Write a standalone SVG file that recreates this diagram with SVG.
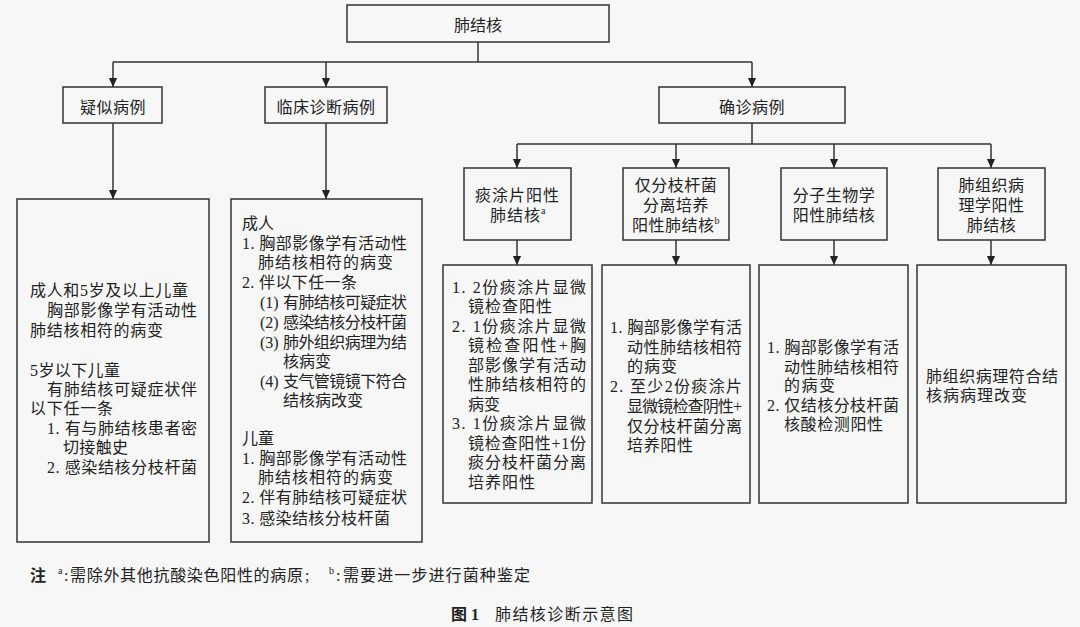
<svg xmlns="http://www.w3.org/2000/svg" width="1080" height="627" viewBox="0 0 1080 627">
<style>
.bg{fill:#f7f7f7}
.box{fill:none;stroke:#333;stroke-width:1.5}
.ln{fill:none;stroke:#333;stroke-width:1.5}
.t{font-family:"Liberation Serif","Noto Sans CJK SC",serif;font-size:16px;fill:#222}
.c{text-anchor:middle}
.sup{font-size:10px}
.fn{font-family:"Liberation Serif","Noto Sans CJK SC",serif;font-size:16px;fill:#222}
.b{font-weight:bold}
</style>
<defs>
<marker id="ad" markerUnits="userSpaceOnUse" markerWidth="10" markerHeight="12" refX="11" refY="5" orient="auto" viewBox="0 0 12 10">
<path d="M0,0 L11,5 L0,10 Z" fill="#222"/>
</marker>
</defs>
<rect class="bg" x="0" y="0" width="1080" height="627"/>

<g id="connectors">
<line class="ln" x1="478" y1="42" x2="478" y2="62"/>
<line class="ln" x1="113" y1="62" x2="752" y2="62"/>
<line class="ln" x1="113" y1="62" x2="113" y2="87" marker-end="url(#ad)"/>
<line class="ln" x1="326" y1="62" x2="326" y2="87" marker-end="url(#ad)"/>
<line class="ln" x1="752" y1="62" x2="752" y2="87" marker-end="url(#ad)"/>
<line class="ln" x1="113" y1="123" x2="113" y2="199" marker-end="url(#ad)"/>
<line class="ln" x1="326" y1="123" x2="326" y2="199" marker-end="url(#ad)"/>
<line class="ln" x1="752" y1="123" x2="752" y2="144"/>
<line class="ln" x1="517" y1="144" x2="991" y2="144"/>
<line class="ln" x1="517" y1="144" x2="517" y2="168" marker-end="url(#ad)"/>
<line class="ln" x1="676" y1="144" x2="676" y2="168" marker-end="url(#ad)"/>
<line class="ln" x1="834" y1="144" x2="834" y2="168" marker-end="url(#ad)"/>
<line class="ln" x1="991" y1="144" x2="991" y2="168" marker-end="url(#ad)"/>
<line class="ln" x1="517" y1="240" x2="517" y2="265" marker-end="url(#ad)"/>
<line class="ln" x1="676" y1="240" x2="676" y2="265" marker-end="url(#ad)"/>
<line class="ln" x1="834" y1="240" x2="834" y2="265" marker-end="url(#ad)"/>
<line class="ln" x1="991" y1="240" x2="991" y2="265" marker-end="url(#ad)"/>
</g>

<g id="root">
<rect class="box" x="347" y="5" width="262" height="37"/>
<text class="t c" x="478" y="31">肺结核</text>
</g>

<g id="suspected">
<rect class="box" x="63" y="87" width="99" height="36"/>
<text class="t c" x="113" y="113" letter-spacing="0.5">疑似病例</text>
</g>

<g id="clinical">
<rect class="box" x="265" y="87" width="122" height="36"/>
<text class="t c" x="326" y="113" letter-spacing="0.5">临床诊断病例</text>
</g>

<g id="confirmed">
<rect class="box" x="659" y="87" width="186" height="36"/>
<text class="t c" x="752" y="113" letter-spacing="0.5">确诊病例</text>
</g>

<g id="suspected-detail">
<rect class="box" x="17" y="199" width="192" height="343"/>
<text class="t" x="30" y="296" textLength="158" lengthAdjust="spacing">成人和5岁及以上儿童</text>
<text class="t" x="47" y="316" textLength="150" lengthAdjust="spacing">胸部影像学有活动性</text>
<text class="t" x="30" y="336" textLength="133" lengthAdjust="spacing">肺结核相符的病变</text>
<text class="t" x="30" y="376" textLength="90" lengthAdjust="spacing">5岁以下儿童</text>
<text class="t" x="47" y="395" textLength="150" lengthAdjust="spacing">有肺结核可疑症状伴</text>
<text class="t" x="30" y="414" textLength="83" lengthAdjust="spacing">以下任一条</text>
<text class="t" x="47" y="434" textLength="150" lengthAdjust="spacing">1. 有与肺结核患者密</text>
<text class="t" x="63" y="453" textLength="65" lengthAdjust="spacing">切接触史</text>
<text class="t" x="47" y="473" textLength="150" lengthAdjust="spacing">2. 感染结核分枝杆菌</text>
</g>

<g id="clinical-detail">
<rect class="box" x="231" y="199" width="191" height="343"/>
<text class="t" x="242" y="229">成人</text>
<text class="t" x="242" y="249" textLength="165" lengthAdjust="spacing">1. 胸部影像学有活动性</text>
<text class="t" x="258" y="268" textLength="135" lengthAdjust="spacing">肺结核相符的病变</text>
<text class="t" x="242" y="288" textLength="115" lengthAdjust="spacing">2. 伴以下任一条</text>
<text class="t" x="260" y="308">(1)<tspan x="283" textLength="124" lengthAdjust="spacing">有肺结核可疑症状</tspan></text>
<text class="t" x="260" y="328">(2)<tspan x="283" textLength="124" lengthAdjust="spacing">感染结核分枝杆菌</tspan></text>
<text class="t" x="260" y="348">(3)<tspan x="283" textLength="124" lengthAdjust="spacing">肺外组织病理为结</tspan></text>
<text class="t" x="283" y="367">核病变</text>
<text class="t" x="260" y="387">(4)<tspan x="283" textLength="124" lengthAdjust="spacing">支气管镜镜下符合</tspan></text>
<text class="t" x="283" y="406">结核病改变</text>
<text class="t" x="242" y="444">儿童</text>
<text class="t" x="242" y="464" textLength="165" lengthAdjust="spacing">1. 胸部影像学有活动性</text>
<text class="t" x="258" y="483" textLength="135" lengthAdjust="spacing">肺结核相符的病变</text>
<text class="t" x="242" y="503" textLength="165" lengthAdjust="spacing">2. 伴有肺结核可疑症状</text>
<text class="t" x="242" y="524" textLength="148" lengthAdjust="spacing">3. 感染结核分枝杆菌</text>
</g>

<g id="smear">
<rect class="box" x="464" y="168" width="107" height="72"/>
<text class="t c" x="517.5" y="201" letter-spacing="1">痰涂片阳性</text>
<text class="t" x="490" y="221" letter-spacing="1">肺结核<tspan class="sup" dy="-7">a</tspan></text>
</g>

<g id="culture">
<rect class="box" x="623" y="168" width="106" height="72"/>
<text class="t c" x="676" y="191" letter-spacing="0.5">仅分枝杆菌</text>
<text class="t c" x="676" y="211" letter-spacing="0.5">分离培养</text>
<text class="t" x="632" y="231" letter-spacing="0.5">阳性肺结核<tspan class="sup" dy="-7">b</tspan></text>
</g>

<g id="molecular">
<rect class="box" x="781" y="168" width="106" height="72"/>
<text class="t c" x="834" y="201" letter-spacing="0.5">分子生物学</text>
<text class="t c" x="834" y="221" letter-spacing="0.5">阳性肺结核</text>
</g>

<g id="pathology">
<rect class="box" x="938" y="168" width="107" height="72"/>
<text class="t c" x="991.5" y="191" letter-spacing="0.5">肺组织病</text>
<text class="t c" x="991.5" y="211" letter-spacing="0.5">理学阳性</text>
<text class="t c" x="991.5" y="231" letter-spacing="0.5">肺结核</text>
</g>

<g id="smear-detail">
<rect class="box" x="443" y="265" width="149" height="238"/>
<text class="t" x="452" y="293" textLength="134" lengthAdjust="spacing">1. 2份痰涂片显微</text>
<text class="t" x="468" y="312" textLength="84" lengthAdjust="spacing">镜检查阳性</text>
<text class="t" x="452" y="332" textLength="134" lengthAdjust="spacing">2. 1份痰涂片显微</text>
<text class="t" x="468" y="351" textLength="118" lengthAdjust="spacing">镜检查阳性+胸</text>
<text class="t" x="468" y="371" textLength="118" lengthAdjust="spacing">部影像学有活动</text>
<text class="t" x="468" y="390" textLength="118" lengthAdjust="spacing">性肺结核相符的</text>
<text class="t" x="468" y="410">病变</text>
<text class="t" x="452" y="429" textLength="134" lengthAdjust="spacing">3. 1份痰涂片显微</text>
<text class="t" x="468" y="449" textLength="118" lengthAdjust="spacing">镜检查阳性+1份</text>
<text class="t" x="468" y="468" textLength="118" lengthAdjust="spacing">痰分枝杆菌分离</text>
<text class="t" x="468" y="488" textLength="67" lengthAdjust="spacing">培养阳性</text>
</g>

<g id="culture-detail">
<rect class="box" x="602" y="265" width="148" height="238"/>
<text class="t" x="610" y="333" textLength="132" lengthAdjust="spacing">1. 胸部影像学有活</text>
<text class="t" x="627" y="353" textLength="115" lengthAdjust="spacing">动性肺结核相符</text>
<text class="t" x="627" y="372" textLength="50" lengthAdjust="spacing">的病变</text>
<text class="t" x="610" y="392" textLength="132" lengthAdjust="spacing">2. 至少2份痰涂片</text>
<text class="t" x="627" y="412" textLength="115" lengthAdjust="spacing">显微镜检查阴性+</text>
<text class="t" x="627" y="432" textLength="115" lengthAdjust="spacing">仅分枝杆菌分离</text>
<text class="t" x="627" y="451" textLength="66" lengthAdjust="spacing">培养阳性</text>
</g>

<g id="molecular-detail">
<rect class="box" x="759" y="265" width="149" height="238"/>
<text class="t" x="767" y="353" textLength="132" lengthAdjust="spacing">1. 胸部影像学有活</text>
<text class="t" x="784" y="373" textLength="115" lengthAdjust="spacing">动性肺结核相符</text>
<text class="t" x="784" y="391" textLength="51" lengthAdjust="spacing">的病变</text>
<text class="t" x="767" y="411" textLength="132" lengthAdjust="spacing">2. 仅结核分枝杆菌</text>
<text class="t" x="784" y="430" textLength="99" lengthAdjust="spacing">核酸检测阳性</text>
</g>

<g id="pathology-detail">
<rect class="box" x="917" y="265" width="149" height="238"/>
<text class="t" x="926" y="382" textLength="132" lengthAdjust="spacing">肺组织病理符合结</text>
<text class="t" x="926" y="401" textLength="101" lengthAdjust="spacing">核病病理改变</text>
</g>

<g id="footnote">
<text class="fn" y="581"><tspan class="b" x="30">注</tspan><tspan class="sup" x="58" dy="-7">a</tspan><tspan x="64" dy="7">:</tspan><tspan x="70" textLength="233" lengthAdjust="spacing">需除外其他抗酸染色阳性的病原</tspan><tspan x="305">;</tspan><tspan class="sup" x="329" dy="-7">b</tspan><tspan x="336" dy="7">:</tspan><tspan x="343" textLength="187" lengthAdjust="spacing">需要进一步进行菌种鉴定</tspan></text>
</g>

<g id="caption">
<text class="fn" y="620"><tspan class="b" x="451">图 1</tspan><tspan x="495" textLength="138" lengthAdjust="spacing">肺结核诊断示意图</tspan></text>
</g>
</svg>
